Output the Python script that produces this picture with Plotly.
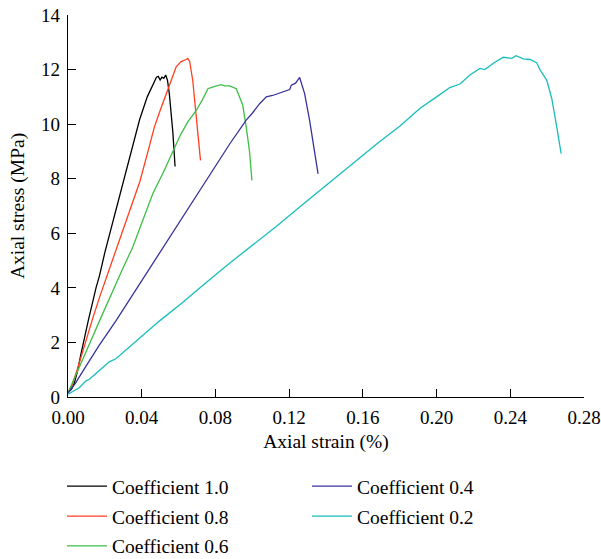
import plotly.graph_objects as go

# ---- data ----
names = ["Coefficient 1.0", "Coefficient 0.8", "Coefficient 0.6", "Coefficient 0.4", "Coefficient 0.2"]
colors = ["#000000", "#FF3F1F", "#3DBE45", "#38339A", "#17BDBC"]

strain_10 = [0, 0.002, 0.0034, 0.005, 0.0071, 0.0089, 0.011, 0.0152, 0.0171, 0.020, 0.025, 0.0315, 0.0355,
             0.0388, 0.043, 0.045, 0.047, 0.048, 0.049, 0.050, 0.051, 0.052, 0.053, 0.054, 0.055, 0.0569, 0.0581]
stress_10 = [0.15, 0.3, 0.5, 0.9, 1.6, 2.2, 2.8, 4.0, 4.45, 5.3, 6.6, 8.31, 9.3,
             10.15, 11.0, 11.3, 11.6, 11.72, 11.75, 11.62, 11.72, 11.68, 11.8, 11.6, 11.1, 9.7, 8.45]

strain_08 = [0, 0.002, 0.005, 0.0094, 0.0135, 0.0171, 0.022, 0.0265, 0.0305, 0.0351, 0.039, 0.0430, 0.0469,
             0.050, 0.0529, 0.056, 0.0587, 0.0614, 0.0641, 0.065, 0.066, 0.0677, 0.0696, 0.0719]
stress_08 = [0.15, 0.4, 1.0, 2.0, 2.9, 3.65, 4.6, 5.45, 6.2, 7.08, 7.9, 8.9, 9.9,
             10.5, 11.0, 11.6, 12.1, 12.29, 12.37, 12.41, 12.3, 11.6, 10.27, 8.67]

strain_06 = [0, 0.003, 0.006, 0.012, 0.0171, 0.023, 0.029, 0.0351, 0.0405, 0.046, 0.0515, 0.0568, 0.061, 0.065,
             0.0696, 0.073, 0.0759, 0.078, 0.081, 0.083, 0.085, 0.0877, 0.0913, 0.0931, 0.0948, 0.0967, 0.0985, 0.0998]
stress_06 = [0.15, 0.6, 1.1, 2.0, 2.79, 3.7, 4.6, 5.49, 6.5, 7.45, 8.2, 8.98, 9.6, 10.08,
             10.5, 10.9, 11.3, 11.35, 11.4, 11.45, 11.4, 11.4, 11.3, 11.0, 10.7, 9.9, 9.0, 7.94]

strain_04 = [0, 0.004, 0.009, 0.017, 0.026, 0.0351, 0.0440, 0.0533, 0.062, 0.0714, 0.080, 0.0880, 0.0967,
             0.1000, 0.1040, 0.1076, 0.1110, 0.1166, 0.1203, 0.1212, 0.1235, 0.1257, 0.1284, 0.1311, 0.1339, 0.1357]
stress_04 = [0.15, 0.5, 1.05, 1.9, 2.79, 3.75, 4.69, 5.66, 6.58, 7.57, 8.48, 9.3, 10.15,
             10.4, 10.75, 11.0, 11.05, 11.18, 11.27, 11.43, 11.5, 11.71, 11.12, 10.14, 9.04, 8.18]

strain_02 = [0, 0.0025, 0.0061, 0.0098, 0.0116, 0.017, 0.0224, 0.026, 0.0388, 0.0497, 0.062, 0.075, 0.0895,
             0.100, 0.1130, 0.1257, 0.140, 0.155, 0.168, 0.180, 0.1909, 0.200, 0.2072, 0.2127, 0.2181, 0.2235,
             0.2262, 0.2308, 0.2362, 0.2408, 0.2431, 0.2471, 0.2507, 0.2543, 0.2561, 0.2598, 0.2625, 0.2652, 0.2676]
stress_02 = [0.1, 0.2, 0.34, 0.59, 0.65, 0.97, 1.29, 1.4, 2.15, 2.79, 3.45, 4.2, 5.0,
             5.55, 6.25, 6.96, 7.75, 8.6, 9.3, 9.92, 10.57, 11.0, 11.34, 11.47, 11.8, 12.04,
             12.0, 12.23, 12.45, 12.41, 12.51, 12.39, 12.37, 12.25, 12.0, 11.61, 10.94, 9.9, 8.92]

x_ticks = [0, 0.04, 0.08, 0.12, 0.16, 0.20, 0.24, 0.28]
x_tick_labels = ["0.00", "0.04", "0.08", "0.12", "0.16", "0.20", "0.24", "0.28"]
y_ticks = [0, 2, 4, 6, 8, 10, 12, 14]

series = [(strain_10, stress_10), (strain_08, stress_08), (strain_06, stress_06),
          (strain_04, stress_04), (strain_02, stress_02)]
legend_ids = ["legend", "legend", "legend", "legend2", "legend2"]

FONT = "Liberation Serif"

fig = go.Figure()
for (xs, ys), name, col, lg in zip(series, names, colors, legend_ids):
    fig.add_trace(go.Scatter(x=xs, y=ys, mode="lines", name=name, legendgroup=name,
                             line=dict(color=col, width=1.3), legend=lg))

axis_common = dict(showline=True, linecolor="black", linewidth=1.2, ticks="inside",
                   ticklen=8, tickwidth=1.2, tickcolor="black", showgrid=False, zeroline=False,
                   automargin=False, tickangle=0,
                   tickfont=dict(family=FONT, size=19, color="black"))

W, H = 601, 559
ML, MR, MT, MB = 68, 17, 15, 162
plot_h = H - MT - MB

def paper_y(py):
    return (H - MB - py) / plot_h

def paper_x(px):
    return (px - ML) / (W - ML - MR)

legend_common = dict(xanchor="left", yanchor="top", itemwidth=40, tracegroupgap=1.5,
                     traceorder="grouped", font=dict(family=FONT, size=19.5),
                     bgcolor="rgba(0,0,0,0)")

fig.update_layout(
    width=W, height=H,
    margin=dict(l=ML, r=MR, t=MT, b=MB, autoexpand=False),
    paper_bgcolor="white", plot_bgcolor="white",
    font=dict(family=FONT, size=19, color="black"),
    xaxis=dict(range=[0, 0.28], tickvals=x_ticks, ticktext=x_tick_labels, ticklabelstandoff=3,
               title=dict(text="Axial strain (%)", font=dict(family=FONT, size=19.5), standoff=7),
               **axis_common),
    yaxis=dict(range=[0, 14], tickvals=y_ticks, ticklabelstandoff=3,
               title=dict(text="Axial stress (MPa)", font=dict(family=FONT, size=19.5), standoff=11),
               **axis_common),
    legend=dict(x=paper_x(62), y=paper_y(467), **legend_common),
    legend2=dict(x=paper_x(307), y=paper_y(467), **legend_common),
)

fig.write_html("out.html")
